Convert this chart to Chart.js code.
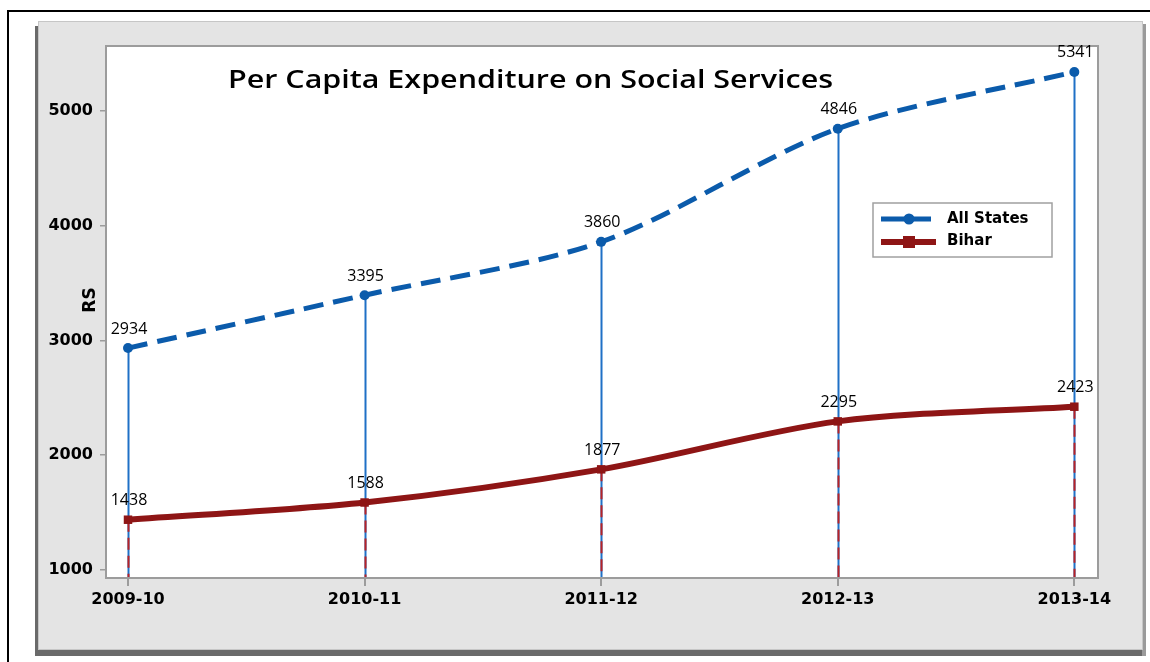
<!DOCTYPE html>
<html>
<head>
<meta charset="utf-8">
<script src="https://cdn.jsdelivr.net/npm/chart.js@4.4.0/dist/chart.umd.min.js"></script>
<style>
  html, body { margin: 0; padding: 0; background: #fff; }
  canvas { display: block; }
</style>
</head>
<body>
<canvas id="chart" width="1150" height="662"></canvas>
<script>
// Data
const years = ['2009-10', '2010-11', '2011-12', '2012-13', '2013-14'];
const allStates = [2934, 3395, 3860, 4846, 5341];
const bihar = [1438, 1588, 1877, 2295, 2423];
const yTicks = [1000, 2000, 3000, 4000, 5000];

const blue = '#0b5bab';
const blueDrop = '#1f70c6';
const red = '#8e1515';
const tickFont = 'DejaVu Sans';
const titleText = 'Per Capita Expenditure on Social Services';

// Background: outer frame, grey panel with shadow, white plot area
const backgroundPlugin = {
    id: 'background',
    beforeDraw(chart) {
        const ctx = chart.ctx;
        const a = chart.chartArea;
        ctx.save();
        ctx.fillStyle = '#fff';
        ctx.fillRect(0, 0, chart.width, chart.height);

        // outer black frame (left and top)
        ctx.strokeStyle = '#000';
        ctx.lineWidth = 2;
        ctx.beginPath();
        ctx.moveTo(8, chart.height);
        ctx.lineTo(8, 11);
        ctx.lineTo(chart.width, 11);
        ctx.stroke();

        // panel shadow
        ctx.fillStyle = '#6a6a6a';
        ctx.fillRect(35, 26, 4, 630);
        ctx.fillRect(35, 649, 1111, 7);
        ctx.fillStyle = '#9a9a9a';
        ctx.fillRect(1142, 24, 4, 632);

        // panel
        ctx.fillStyle = '#e4e4e4';
        ctx.fillRect(38, 21, 1105, 629);
        ctx.strokeStyle = '#c6c6c6';
        ctx.lineWidth = 1;
        ctx.strokeRect(38.5, 21.5, 1104, 628);

        // plot area
        ctx.fillStyle = '#fff';
        ctx.fillRect(a.left, a.top, a.right - a.left, a.bottom - a.top);
        ctx.restore();
    }
};

// Drop lines from each point to the x axis, plus the plot frame
const dropLinePlugin = {
    id: 'dropLines',
    beforeDatasetsDraw(chart) {
        const ctx = chart.ctx;
        const a = chart.chartArea;
        const xs = chart.scales.x;
        const ys = chart.scales.y;
        ctx.save();
        ctx.lineWidth = 2;
        allStates.forEach((v, i) => {
            const x = Math.round(xs.getPixelForValue(i)) + 0.5;
            ctx.strokeStyle = blueDrop;
            ctx.setLineDash([]);
            ctx.beginPath();
            ctx.moveTo(x, ys.getPixelForValue(v));
            ctx.lineTo(x, a.bottom);
            ctx.stroke();
        });
        bihar.forEach((v, i) => {
            const x = Math.round(xs.getPixelForValue(i)) + 0.5;
            ctx.strokeStyle = '#b82226';
            ctx.setLineDash([12, 6]);
            ctx.beginPath();
            ctx.moveTo(x, ys.getPixelForValue(v));
            ctx.lineTo(x, a.bottom);
            ctx.stroke();
        });
        ctx.setLineDash([]);
        ctx.strokeStyle = '#9c9c9c';
        ctx.lineWidth = 2;
        ctx.strokeRect(a.left, a.top, a.right - a.left, a.bottom - a.top);
        ctx.restore();
    }
};

// Value labels above the points
const valueLabelPlugin = {
    id: 'valueLabels',
    afterDatasetsDraw(chart) {
        const ctx = chart.ctx;
        ctx.save();
        ctx.font = '16px "Open Sans"';
        ctx.fillStyle = '#000';
        ctx.textAlign = 'center';
        ctx.textBaseline = 'middle';
        chart.data.datasets.forEach((ds, di) => {
            chart.getDatasetMeta(di).data.forEach((pt, i) => {
                ctx.fillText(ds.data[i].y, pt.x + 1, pt.y - 19);
            });
        });
        ctx.restore();
    }
};

// Title, axis title and legend box
const decorPlugin = {
    id: 'decor',
    afterDraw(chart) {
        const ctx = chart.ctx;
        ctx.save();
        ctx.fillStyle = '#000';
        ctx.font = '600 26px "Open Sans"';
        ctx.textAlign = 'left';
        ctx.textBaseline = 'alphabetic';
        // widen the title to the span it has in the reference
        const w = ctx.measureText(titleText).width;
        ctx.translate(228, 88);
        ctx.scale(605 / w, 1);
        ctx.fillText(titleText, 0, 0);
        ctx.restore();

        ctx.save();
        ctx.fillStyle = '#000';
        ctx.translate(91, 300);
        ctx.rotate(-Math.PI / 2);
        ctx.font = 'bold 17px "DejaVu Sans"';
        ctx.textAlign = 'center';
        ctx.textBaseline = 'middle';
        ctx.fillText('RS', 0, 0);
        ctx.restore();

        // legend
        ctx.save();
        ctx.fillStyle = '#fff';
        ctx.fillRect(873, 203, 179, 54);
        ctx.strokeStyle = '#a0a0a0';
        ctx.lineWidth = 1.5;
        ctx.strokeRect(873, 203, 179, 54);

        ctx.strokeStyle = blue;
        ctx.lineWidth = 5;
        ctx.beginPath();
        ctx.moveTo(881, 219);
        ctx.lineTo(931, 219);
        ctx.stroke();
        ctx.fillStyle = blue;
        ctx.beginPath();
        ctx.arc(909, 219, 5.5, 0, Math.PI * 2);
        ctx.fill();

        ctx.strokeStyle = red;
        ctx.lineWidth = 6;
        ctx.beginPath();
        ctx.moveTo(881, 242);
        ctx.lineTo(936, 242);
        ctx.stroke();
        ctx.fillStyle = red;
        ctx.fillRect(903, 236, 12, 12);

        ctx.fillStyle = '#000';
        ctx.font = 'bold 15px "DejaVu Sans"';
        ctx.textAlign = 'left';
        ctx.textBaseline = 'middle';
        ctx.fillText('All States', 947, 219);
        ctx.fillText('Bihar', 947, 241);
        ctx.restore();
    }
};

const toPoints = arr => arr.map((v, i) => ({ x: i, y: v }));

new Chart(document.getElementById('chart'), {
    type: 'line',
    data: {
        datasets: [{
            label: 'All States',
            data: toPoints(allStates),
            borderColor: blue,
            backgroundColor: blue,
            borderWidth: 5,
            borderDash: [20, 10],
            borderCapStyle: 'butt',
            tension: 0.3,
            pointStyle: 'circle',
            pointRadius: 5,
            pointBorderWidth: 0,
            fill: false
        }, {
            label: 'Bihar',
            data: toPoints(bihar),
            borderColor: red,
            backgroundColor: red,
            borderWidth: 6,
            tension: 0.3,
            pointStyle: 'rect',
            pointRadius: 6,
            pointBorderWidth: 0,
            fill: false
        }]
    },
    options: {
        responsive: false,
        animation: false,
        layout: { padding: { top: 46, right: 52, left: 0, bottom: 0 } },
        plugins: {
            legend: { display: false },
            title: { display: false },
            tooltip: { enabled: false }
        },
        scales: {
            x: {
                type: 'linear',
                min: -0.093,
                max: 4.1,
                afterBuildTicks: scale => { scale.ticks = years.map((_, i) => ({ value: i })); },
                afterFit: scale => { scale.height = 84; },
                border: { display: false },
                grid: {
                    drawOnChartArea: false,
                    drawTicks: true,
                    tickLength: 8,
                    color: '#9c9c9c',
                    lineWidth: 2
                },
                ticks: {
                    callback: v => years[v],
                    color: '#000',
                    font: { family: tickFont, size: 16, weight: 'bold' },
                    padding: 4,
                    maxRotation: 0
                }
            },
            y: {
                min: 930,
                max: 5567,
                afterBuildTicks: scale => { scale.ticks = yTicks.map(v => ({ value: v })); },
                afterFit: scale => { scale.width = 106; },
                border: { display: false },
                grid: {
                    drawOnChartArea: false,
                    drawTicks: true,
                    tickLength: 6,
                    color: '#9c9c9c',
                    lineWidth: 1.5
                },
                ticks: {
                    callback: v => String(v),
                    color: '#000',
                    font: { family: tickFont, size: 16, weight: 'bold' },
                    padding: 7
                }
            }
        }
    },
    plugins: [backgroundPlugin, dropLinePlugin, valueLabelPlugin, decorPlugin]
});
</script>
</body>
</html>
